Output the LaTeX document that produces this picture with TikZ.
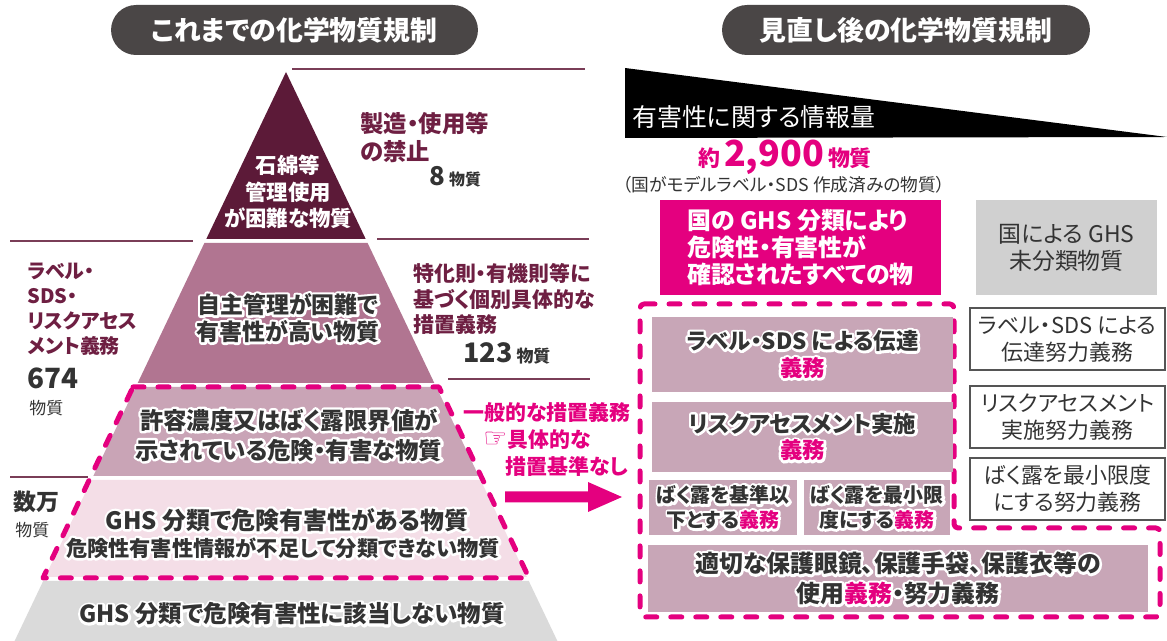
\documentclass[tikz,border=0pt]{standalone}
\usepackage{fontspec}
\setmainfont{Noto Sans CJK JP}[RawFeature=+palt]
\newfontfamily\symfont{DejaVu Sans}
\definecolor{pill}{HTML}{4A4646}
\definecolor{maroon}{HTML}{5C1A38}
\definecolor{layertwo}{HTML}{B17591}
\definecolor{layerthree}{HTML}{C9A4B6}
\definecolor{layerfour}{HTML}{F4DEE7}
\definecolor{layerfive}{HTML}{DADADA}
\definecolor{hotpink}{HTML}{E4007F}
\definecolor{wine}{HTML}{6E1F42}
\definecolor{ink}{HTML}{333333}
\definecolor{mauve}{HTML}{C8A6B7}
\definecolor{grayfill}{HTML}{D0D0D0}
\definecolor{rule}{HTML}{7A3D57}
\definecolor{boxline}{HTML}{555555}
\newcommand\fs[2]{\fontsize{\fpeval{#1*0.5669}pt}{\fpeval{#2*0.5669}pt}\selectfont}
\newcommand\glow[1]{\leavevmode\rlap{\def\color##1{}\special{pdf:literal direct 1 Tr 1 j 2.8 w 1 1 1 RG}#1\special{pdf:literal direct 0 Tr}}#1}
\tikzset{
  pillbox/.style={fill=pill, rounded corners=0.5cm, minimum height=1cm, text=white, font=\fs{27}{30}\bfseries, inner sep=0pt},
  rulel/.style={draw=rule, line width=0.03cm},
  pinkdash/.style={draw=hotpink, line width=0.1cm, dash pattern=on 0.22cm off 0.28cm, line cap=round, line join=round},
  lyrtxt/.style={text=ink, align=center, inner sep=0pt},
  winetxt/.style={text=wine, align=left, inner sep=0pt, anchor=west},
  inktxt/.style={text=ink, inner sep=0pt, anchor=west},
  pinktxt/.style={text=hotpink, font=\fs{21}{27}\bfseries, inner sep=0pt},
  mbox/.style={fill=mauve, inner sep=0pt, align=center, text=ink},
  wbox/.style={draw=boxline, line width=0.04cm, fill=white, inner sep=0pt, align=center, text=ink, font=\fs{22}{27}},
}
\begin{document}
\begin{tikzpicture}[x=0.02cm,y=-0.02cm]
\useasboundingbox (0,0) rectangle (1167,641);

% titles
\node[pillbox, minimum width=7.34cm] (ttl) at (294.5,30) {これまでの化学物質規制};
\node[pillbox, minimum width=7.36cm] (ttr) at (906,30) {見直し後の化学物質規制};

% thin rules
\draw[rulel] (292,69) -- (585,69);
\draw[rulel] (10,241) -- (193,241);
\draw[rulel] (377,239) -- (589,239);
\draw[rulel] (448,379) -- (590,379);
\draw[rulel] (10,477) -- (88,477);

% pyramid layers
\fill[maroon] (286,72) -- (365.7,239) -- (206.3,239) -- cycle;
\fill[layertwo] (204.4,243) -- (367.6,243) -- (434.3,383) -- (137.7,383) -- cycle;
\fill[layerthree] (135.7,387) -- (436.3,387) -- (478.7,476) -- (93.3,476) -- cycle;
\fill[layerfour] (91.4,480) -- (480.6,480) -- (526.9,577) -- (45.1,577) -- cycle;
\fill[layerfive] (43.2,581) -- (528.8,581) -- (557.4,641) -- (14.6,641) -- cycle;
\draw[pinkdash] (133,387) -- (439,387) -- (529,578) -- (43,578) -- cycle;

% pyramid texts
\node[lyrtxt, text=white, font=\fs{21.5}{26.5}\bfseries] (l1) at (288,192) {石綿等\\管理使用\\が困難な物質};
\node[lyrtxt, font=\fs{23}{27}\bfseries] (l2) at (288,318) {\glow{自主管理が困難で}\\\glow{有害性が高い物質}};
\node[lyrtxt, font=\fs{23.5}{30}\bfseries] (l3) at (289,435) {\glow{許容濃度又はばく露限界値が}\\\glow{示されている危険・有害な物質}};
\node[lyrtxt, font=\fs{24}{27}\bfseries] (l4a) at (287,520) {\glow{GHS 分類で危険有害性がある物質}};
\node[lyrtxt, font=\fs{21.3}{25}\bfseries] (l4b) at (283,548) {\glow{危険性有害性情報が不足して分類できない物質}};
\node[lyrtxt, font=\fs{23.6}{27}\bfseries] (l5) at (292,614) {\glow{GHS 分類で危険有害性に該当しない物質}};

% side labels
\node[winetxt, font=\fs{23.5}{29}\bfseries] (ban) at (360,137.5) {製造・使用等\\の禁止};
\node[inktxt, font=\bfseries] (n8) at (429,177) {{\fs{26}{30}8} {\fs{16}{20}物質}};
\node[winetxt, font=\fs{20}{25}\bfseries] (lsds) at (27,309.5) {ラベル・\\SDS・\\リスクアセス\\メント義務};
\node[inktxt, font=\fs{28}{30}\bfseries] (n674) at (27,378) {674};
\node[inktxt, font=\fs{17}{20}] (u674) at (29,408) {物質};
\node[winetxt, font=\fs{21}{26}\bfseries] (tok) at (413,299) {特化則・有機則等に\\基づく個別具体的な\\措置義務};
\node[inktxt, font=\bfseries] (n123) at (463,353) {{\fs{27}{30}123} {\fs{17}{20}物質}};
\node[inktxt, font=\fs{23}{27}\bfseries] (nman) at (13,502) {数万};
\node[inktxt, font=\fs{17}{20}] (uman) at (15,530) {物質};

% pink notes and arrow
\node[pinktxt] (gen) at (547,413) {一般的な措置義務};
\node[pinktxt, anchor=west] (spec) at (483,440) {{\symfont\fs{27}{27}☞}具体的な};
\node[pinktxt, anchor=west] (nob) at (505,467) {措置基準なし};
\coordinate (as) at (505,497);
\coordinate (ae) at (622,497);
\fill[hotpink] (as) ++(0,-5.5) -- (588,491.5) -- (588,482) -- (ae) -- (588,512) -- (588,502.5) -- (505,502.5) -- cycle;

% right: information wedge
\fill[black] (625,68) -- (1167,137) -- (625,138) -- cycle;
\node[inktxt, text=white, font=\fs{25}{30}] (info) at (632,117) {有害性に関する情報量};
\node[text=hotpink, inner sep=0pt, font=\bfseries] (cnt) at (785,157) {{\fs{22}{26}約} {\fs{36}{40}2,900} {\fs{22}{26}物質}};
\node[text=ink, inner sep=0pt, font=\fs{17.8}{20}] (cap) at (784,185) {（国がモデルラベル・SDS 作成済みの物質）};

% top boxes
\node[fill=hotpink, text=white, inner sep=0pt, minimum width=5.62cm, minimum height=1.9cm, align=left, font=\fs{24}{27}\bfseries] (ghs) at (800.5,247.5) {国の GHS 分類により\\危険性・有害性が\\確認されたすべての物};
\node[fill=grayfill, text=ink, inner sep=0pt, minimum width=3.62cm, minimum height=1.9cm, align=center, font=\fs{23}{27}] (unc) at (1066.5,247.5) {国による GHS\\未分類物質};

% dashed frame on right
\draw[pinkdash, rounded corners=0.08cm] (640,304) -- (954,304) -- (954,528) -- (1160,528) -- (1160,617) -- (640,617) -- cycle;

% mauve duty boxes
\node[mbox, minimum width=6.02cm, minimum height=1.5cm, font=\fs{22.5}{27}\bfseries] (ba) at (802.5,354.5) {\glow{ラベル・SDS による伝達}\\\glow{\color{hotpink}義務}};
\node[mbox, minimum width=6.02cm, minimum height=1.4cm, font=\fs{22.5}{27}\bfseries] (bb) at (802.5,437) {\glow{リスクアセスメント実施}\\\glow{\color{hotpink}義務}};
\node[mbox, minimum width=2.96cm, minimum height=1.1cm, font=\fs{20}{25}\bfseries] (bc) at (723,507.5) {\glow{ばく露を基準以}\\\glow{下とする{\color{hotpink}義務}}};
\node[mbox, minimum width=2.92cm, minimum height=1.1cm, font=\fs{20}{25}\bfseries] (bd) at (877,507.5) {\glow{ばく露を最小限}\\\glow{度にする{\color{hotpink}義務}}};
\node[mbox, minimum width=10cm, minimum height=1.34cm, font=\fs{24}{30}\bfseries] (be) at (898,578.5) {\glow{適切な保護眼鏡、保護手袋、保護衣等の}\\\glow{使用{\color{hotpink}義務}・努力義務}};

% white effort boxes
\node[wbox, minimum width=3.9cm, minimum height=1.24cm] (wa) at (1067.5,339) {ラベル・SDS による\\伝達努力義務};
\node[wbox, minimum width=3.9cm, minimum height=1.24cm] (wb) at (1067.5,417) {リスクアセスメント\\実施努力義務};
\node[wbox, minimum width=3.9cm, minimum height=1.24cm] (wc) at (1067.5,489) {ばく露を最小限度\\にする努力義務};
\end{tikzpicture}
\end{document}
